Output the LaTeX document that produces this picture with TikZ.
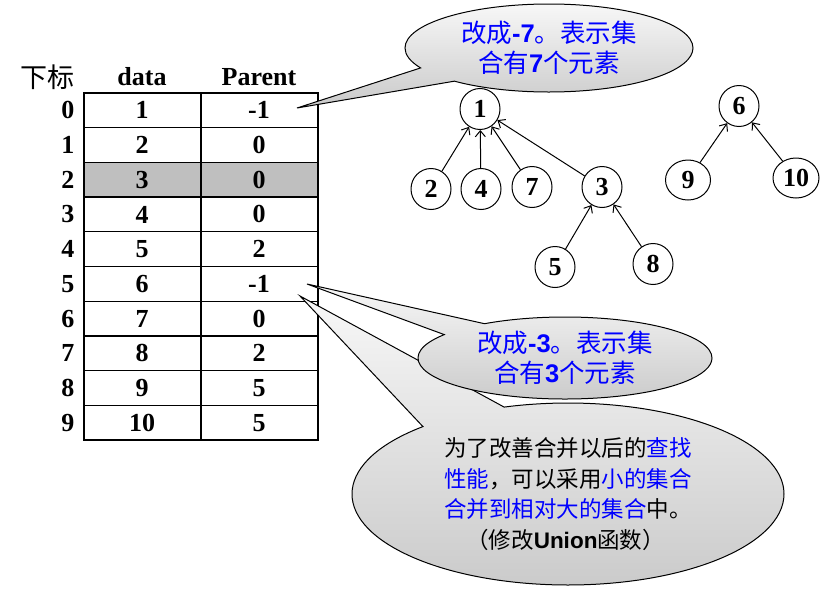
\documentclass[tikz,border=0pt]{standalone}
\usepackage{fontspec}
\setmainfont{Liberation Serif}
\newfontfamily\cjk{Noto Sans CJK SC}
\newfontfamily\arial{Liberation Sans}
\usetikzlibrary{shapes.geometric,shapes.callouts,arrows.meta}
\newcommand{\lat}[1]{{\arial\bfseries #1}}
\newcommand{\bl}[1]{\textcolor{blue}{#1}}
\tikzset{
  cell/.style={font=\bfseries\fontsize{26}{28}\selectfont},
  vertex/.style={ellipse, draw, line width=1pt, minimum width=40pt, minimum height=41pt, inner sep=0pt,
    font=\bfseries\fontsize{26}{26}\selectfont},
  note/.style={ellipse callout, draw, line width=1pt, top color=gray!6, bottom color=gray!42,
    inner sep=0pt, callout pointer arc=22, font=\cjk\fontsize{25.5}{30}\selectfont}
}

\begin{document}
\begin{tikzpicture}[x=1pt,y=-1pt,>={Straight Barb[length=6pt,width=10pt]}]
  \useasboundingbox (0,0) rectangle (838,603);
  % table
  \fill[gray!50] (84,162.4) rectangle (318,197.1);
  \draw[line width=1.3pt] (84,93) rectangle (318,440);
  \draw[line width=1.3pt] (201,93) -- (201,440);
  \foreach \r in {1,...,9}
    \draw[line width=1.3pt] (84,{93+34.7*\r}) -- (318,{93+34.7*\r});
  \node[font=\cjk\fontsize{27}{27}\selectfont] (hidx) at (47,77) {下标};
  \node[cell] (hdata) at (142,77) {data};
  \node[cell] (hpar) at (259,77) {Parent};
  \foreach \i/\d/\p in {0/1/-1,1/2/0,2/3/0,3/4/0,4/5/2,5/6/-1,6/7/0,7/8/2,8/9/5,9/10/5} {
    \node[cell,anchor=east] (idx\i) at (78,{93+34.7*(\i+0.5)}) {\i};
    \node[cell] (d\i) at (142,{93+34.7*(\i+0.5)}) {\d};
    \node[cell] (p\i) at (259,{93+34.7*(\i+0.5)}) {\p};
  }
  % trees
  \node[vertex] (n1) at (480,109) {1};
  \node[vertex] (n2) at (431,189) {2};
  \node[vertex] (n4) at (481,189) {4};
  \node[vertex] (n7) at (532,187) {7};
  \node[vertex] (n3) at (602,187) {3};
  \node[vertex] (n5) at (555,267) {5};
  \node[vertex] (n8) at (653,264) {8};
  \node[vertex] (n6) at (739,106) {6};
  \node[vertex,minimum width=45pt,minimum height=40pt] (n9) at (688,180) {9};
  \node[vertex,minimum width=46pt,minimum height=40pt] (n10) at (796,178) {10};
  \foreach \c/\p in {n2/n1,n4/n1,n7/n1,n3/n1,n5/n3,n8/n3,n9/n6,n10/n6}
    \draw[->,line width=1pt] (\c) -- (\p);
  % callouts
  \coordinate (tip0) at (297,108);
  \coordinate (tip5a) at (307,284);
  \coordinate (tip5b) at (300,296);
  \node[note, callout absolute pointer={(tip5b)}, callout pointer arc=25,
    minimum width=432pt, minimum height=182pt, align=left, font=\cjk\fontsize{22.5}{30.5}\selectfont]
    (big) at (568,494)
    {为了改善合并以后的\bl{查找}\\\bl{性能}，可以采用\bl{小的集合}\\\bl{合并到相对大的集合}中。\\\hspace*{22pt}（修改\lat{Union}函数）};
  \node[note, callout absolute pointer={(tip5a)}, minimum width=294pt, minimum height=82pt,
    align=center, text=blue] (mid) at (565,358) {改成\lat{-3}。表示集\\合有\lat{3}个元素};
  \node[note, callout absolute pointer={(tip0)}, minimum width=288pt, minimum height=88pt,
    align=center, text=blue] (top) at (549,48) {改成\lat{-7}。表示集\\合有\lat{7}个元素};
\end{tikzpicture}
\end{document}
